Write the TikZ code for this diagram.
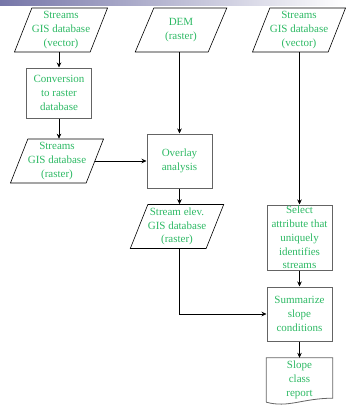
\documentclass[tikz,border=0pt]{standalone}
\usepackage{fontspec}
\setmainfont{Liberation Serif}
\usetikzlibrary{shapes.geometric, arrows.meta, positioning, calc}
\definecolor{labelgreen}{RGB}{45, 185, 100}
\definecolor{boxgray}{RGB}{100, 100, 100}
\definecolor{barpurple}{RGB}{118, 118, 168}

\begin{document}
\begin{tikzpicture}[
    x=1pt, y=-1pt,
    dbase/.style={trapezium, trapezium left angle=65, trapezium right angle=115, trapezium stretches=true, minimum width=92pt, minimum height=44pt, inner sep=0pt, draw=black, line width=0.6pt, text=labelgreen, align=center, font=\fontsize{11}{13.8}\selectfont},
    procbox/.style={rectangle, minimum width=65pt, inner sep=0pt, draw=boxgray, line width=1pt, text=labelgreen, align=center, font=\fontsize{11}{13.8}\selectfont},
    report/.style={rectangle, minimum width=66pt, minimum height=44pt, inner sep=0pt, text=labelgreen, align=center, font=\fontsize{11}{13.8}\selectfont},
    arrow/.style={-{Stealth[length=5pt, width=4.5pt]}, line width=0.6pt, draw=black}
]
\useasboundingbox (0,0) rectangle (346,407);
\shade[left color=barpurple, right color=white] (0,0) rectangle (346,5);

% input layers
\node (vec_left) [dbase] at (61,30) {Streams\\GIS database\\(vector)};
\node (dem) [dbase] at (181,30) {DEM\\(raster)};
\node (vec_right) [dbase] at (299,30) {Streams\\GIS database\\(vector)};

% left column
\node (convert) [procbox, minimum height=50pt] at (59,93) {Conversion\\to raster\\database};
\node (ras_streams) [dbase] at (57,161) {Streams\\GIS database\\(raster)};

% middle column
\node (overlay) [procbox, minimum height=54pt] at (179.5,161) {Overlay\\analysis};
\node (ras_elev) [dbase] at (177,226.5) {Stream elev.\\GIS database\\(raster)};

% right column
\node (select) [procbox, minimum height=65pt] at (299.5,237.5) {Select\\attribute that\\uniquely\\identifies\\streams};
\node (summarize) [procbox, minimum height=54pt] at (299.5,314) {Summarize\\slope\\conditions};
\node (slope_report) [report] at (299.5,380) {Slope\\class\\report};
\draw [line width=0.8pt, draw=boxgray]
    (slope_report.south west) -- (slope_report.north west) -- (slope_report.north east)
    -- ($(slope_report.south east)+(0,-4)$)
    .. controls ($(slope_report.south east)+(-30,-4)$) and ($(slope_report.south west)+(22,6)$) .. (slope_report.south west);

\draw [arrow] (vec_left.south -| convert.north) -- (convert.north);
\draw [arrow] (convert.south) -- (convert.south |- ras_streams.north);
\draw [arrow] (ras_streams.east) -- (ras_streams.east -| overlay.west);
\draw [arrow] (dem.south -| overlay.north) -- (overlay.north);
\draw [arrow] (overlay.south) -- (overlay.south |- ras_elev.north);
\draw [arrow] (vec_right.south -| select.north) -- (select.north);
\draw [arrow] (ras_elev.south -| overlay.south) |- (summarize.west);
\draw [arrow] (select.south) -- (summarize.north);
\draw [arrow] (summarize.south) -- (slope_report.north);

\end{tikzpicture}
\end{document}
